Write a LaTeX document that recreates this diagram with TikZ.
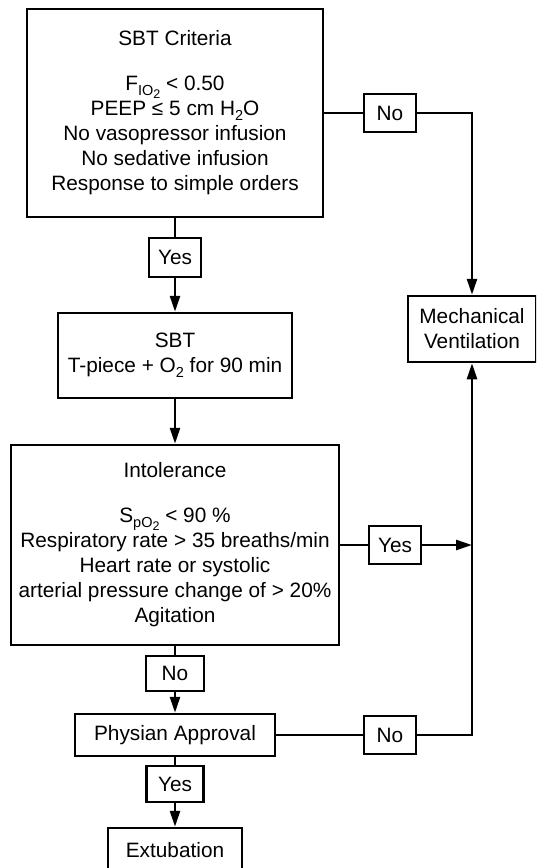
\documentclass[tikz,border=0pt]{standalone}
\usepackage{fontspec}
\setmainfont{Liberation Sans}
\usetikzlibrary{arrows.meta}
\newcommand{\subtxt}[1]{\raisebox{-0.22em}{\fontsize{14.5}{15}\selectfont #1}}
\newcommand{\subsubtxt}[1]{\raisebox{-0.2em}{\fontsize{12.5}{13}\selectfont #1}}

\begin{document}
\begin{tikzpicture}[x=1pt,y=-1pt,line width=2.5pt,
  box/.style={draw,rectangle,inner sep=0pt,align=center,font=\fontsize{20.8}{25}\selectfont},
  tag/.style={box,minimum width=52pt,minimum height=38pt},
  arr/.style={-{Triangle[length=16pt,width=10pt]}}]
\useasboundingbox (0,0) rectangle (536,868);
\clip (0,0) rectangle (536,868);

%left column
\node[box,minimum width=296pt,minimum height=208pt] (A) at (175,113) {SBT Criteria\\[20pt] F\subtxt{IO\subsubtxt{2}} < 0.50\\ PEEP ≤ 5 cm H\subtxt{2}O\\ No vasopressor infusion\\ No sedative infusion\\ Response to simple orders};
\node[tag,minimum height=39pt] (D) at (175,257.5) {Yes};
\node[box,minimum width=234pt,minimum height=85pt] (E) at (175,355.5) {SBT\\ T-piece + O\subtxt{2} for 90 min};
\node[box,minimum width=328pt,minimum height=200pt] (F) at (175,545) {Intolerance\\[20pt] S\subtxt{pO\subsubtxt{2}} < 90 \%\\ Respiratory rate > 35 breaths/min\\ Heart rate or systolic\\ arterial pressure change of > 20\%\\ Agitation};
\node[tag,minimum width=58pt,minimum height=35pt] (H) at (175,673.5) {No};
\node[box,minimum width=200pt,minimum height=42pt] (I) at (175,735) {Physian Approval};
\node[tag,minimum width=57pt,minimum height=36pt] (K) at (175,784) {Yes};
\node[box,minimum width=134pt,minimum height=44pt] (L) at (175,850) {Extubation};

%right column
\node[tag] (B) at (390,113) {No};
\node[box,minimum width=128pt,minimum height=66pt] (C) at (472,329) {Mechanical\\ Ventilation};
\node[tag] (G) at (395,545) {Yes};
\node[tag] (J) at (390,735) {No};

\coordinate (P) at (472,113);
\coordinate (Q) at (472,545);
\coordinate (R) at (472,735);

\draw (A) -- (D);
\draw[arr] (D) -- (E);
\draw[arr] (E) -- (F);
\draw (F) -- (H);
\draw[arr] (H) -- (I);
\draw (I) -- (K);
\draw[arr] (K) -- (L);

\draw (A) -- (B);
\draw[arr] (B) -- (P) -- (C);
\draw (F) -- (G);
\draw[arr] (G) -- (Q);
\draw (I) -- (J);
\draw[arr] (J) -- (R) -- (C);
\end{tikzpicture}
\end{document}
